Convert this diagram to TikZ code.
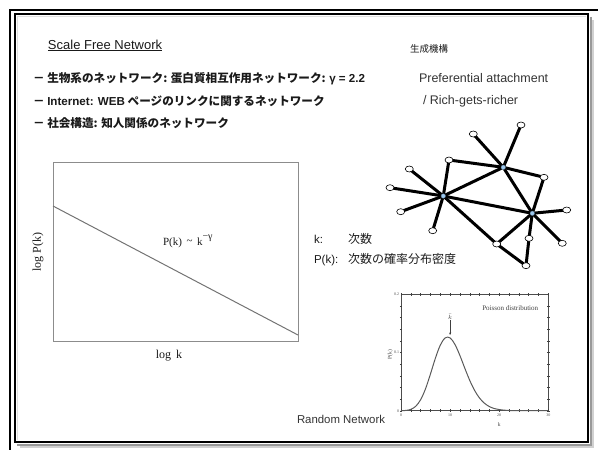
\documentclass[tikz,border=0pt]{standalone}
\usepackage{fontspec}
\setmainfont{Liberation Sans}
\newfontfamily\ja{Noto Sans CJK JP}
\newfontfamily\tms{Liberation Serif}
\usetikzlibrary{shapes.geometric,arrows.meta,backgrounds}
\definecolor{txt}{HTML}{1A1A1A}
\definecolor{hubblue}{HTML}{9CC8EE}
\tikzset{
  lbl/.style={inner sep=0pt, outer sep=0pt, text=txt},
  hub/.style={circle, fill=hubblue, draw=hubblue!60!black, line width=0.3pt, inner sep=0pt, minimum size=4.5pt},
  leaf/.style={ellipse, fill=white, draw=black, line width=0.6pt, inner sep=0pt, minimum width=8pt, minimum height=6pt},
  edge/.style={line width=3pt, black},
  plotframe/.style={draw=black!45, line width=1pt},
  tick/.style={line width=0.4pt, black!75},
  ticklbl/.style={lbl, font=\tms\fontsize{4}{4}\selectfont, text=black!70},
}
\begin{document}
\begin{tikzpicture}[x=1pt,y=-1pt]
\useasboundingbox (0,0) rectangle (598,450);
% frame
\draw[black!18, line width=2pt] (592.5,20) -- (592.5,446.5) -- (20,446.5);
\draw[black!40, line width=2pt] (590.5,17) -- (590.5,444.5) -- (17,444.5);
\draw[black!12, line width=0.8pt] (17.5,440) -- (17.5,16.5) -- (586,16.5);
\draw[black, line width=1.6pt] (10,450) -- (10,10) -- (598,10);
\draw[black, line width=1.6pt] (15,14) rectangle (588,442);

% headings
\node[lbl, anchor=base west, font=\fontsize{13}{13}\selectfont] (title) at (48,49) {\underline{Scale Free Network}};
\node[lbl, anchor=base west, font=\ja\fontsize{9.5}{9.5}\selectfont] (gen) at (410,52) {生成機構};
\node[lbl, anchor=base west, font=\fontsize{12.5}{12.5}\selectfont, text=black!80] (pref) at (419,82) {Preferential attachment};
\node[lbl, anchor=base west, font=\fontsize{12.5}{12.5}\selectfont, text=black!80] (rich) at (423,104) {/ Rich-gets-richer};

% bullets
\node[lbl, anchor=base west, font=\ja\bfseries\fontsize{11.6}{11.6}\selectfont] (b1) at (33,82) {－ 生物系のネットワーク: 蛋白質相互作用ネットワーク: {\rmfamily\bfseries γ = 2.2}};
\node[lbl, anchor=base west, font=\ja\bfseries\fontsize{11.6}{11.6}\selectfont] (b2) at (33,105) {－ {\rmfamily\bfseries Internet: WEB} ページのリンクに関するネットワーク};
\node[lbl, anchor=base west, font=\ja\bfseries\fontsize{11.6}{11.6}\selectfont] (b3) at (33,127) {－ 社会構造: 知人関係のネットワーク};

% power law plot
\draw[plotframe] (53,162) rectangle (298,341);
\coordinate (pl1) at (53,206);
\coordinate (pl2) at (298,335);
\draw[black!55, line width=1pt] (pl1) -- (pl2);
\node[lbl, anchor=base west, font=\tms\fontsize{11}{11}\selectfont] (law) at (163,245) {P(k) \,{\raisebox{1pt}{\char"7E}}\, k\raisebox{6pt}{\fontsize{10}{10}\selectfont −γ}};
\node[lbl, rotate=90, font=\tms\fontsize{12}{12}\selectfont] (ylab) at (38,252) {log P(k)};
\node[lbl, font=\tms\fontsize{12}{12}\selectfont] (xlab) at (169,356) {log\, k};

% definitions
\node[lbl, anchor=base west, font=\fontsize{11.5}{11.5}\selectfont] (d1) at (314,243) {k:};
\node[lbl, anchor=base west, font=\ja\fontsize{12}{12}\selectfont] (d1b) at (348,243) {次数};
\node[lbl, anchor=base west, font=\fontsize{11.5}{11.5}\selectfont] (d2) at (314,263) {P(k):};
\node[lbl, anchor=base west, font=\ja\fontsize{12}{12}\selectfont] (d2b) at (348,263) {次数の確率分布密度};

% network
\node[hub] (H1) at (443.3,196) {};
\node[hub] (H2) at (503.3,167.3) {};
\node[hub] (H3) at (532.3,213.3) {};
\node[leaf] (a) at (473.3,134) {};
\node[leaf] (b) at (521,125) {};
\node[leaf] (c) at (449,160) {};
\node[leaf] (d) at (409.3,169) {};
\node[leaf] (e) at (390,187.7) {};
\node[leaf] (f) at (400.7,211.7) {};
\node[leaf] (g) at (432.7,230.7) {};
\node[leaf] (h) at (544,177.3) {};
\node[leaf] (i) at (566.7,210) {};
\node[leaf] (j) at (562.3,243.3) {};
\node[leaf] (k) at (529,238.3) {};
\node[leaf] (l) at (496.7,244) {};
\node[leaf] (m) at (526,265.7) {};
\begin{pgfonlayer}{background}
\foreach \u/\v in {H1/d,H1/e,H1/f,H1/g,H1/c,H1/H2,H1/H3,H1/l,c/H2,H2/a,H2/b,H2/h,H2/H3,h/H3,H3/i,H3/j,H3/k,H3/l,k/m,l/m}
  \draw[edge] (\u.center) -- (\v.center);
\end{pgfonlayer}

% poisson plot
\begin{scope}[shift={(401,410.7)}, x=4.91pt, y=582pt]
\draw[black!70, line width=0.6pt] (0,0) rectangle (30,0.2);
\foreach \t in {0,2,...,30} {
  \draw[tick] ([yshift=-1.2pt]\t,0) -- ++(0pt,2.6pt);
  \draw[tick] ([yshift=1.2pt]\t,0.2) -- ++(0pt,-2.6pt);
}
\foreach \t in {0,0.02,...,0.2} {
  \draw[tick] ([xshift=-1.2pt]0,\t) -- ++(2.6pt,0pt);
  \draw[tick] ([xshift=1.2pt]30,\t) -- ++(-2.6pt,0pt);
}
\foreach \t in {0,10,20,30}
  \node[ticklbl, anchor=north] at ([yshift=-3pt]\t,0) {\t};
\node[ticklbl, anchor=east] at ([xshift=-2pt]0,0) {0};
\node[ticklbl, anchor=east] at ([xshift=-2pt]0,0.1) {0.1};
\node[ticklbl, anchor=east] at ([xshift=-2pt]0,0.2) {0.2};
\draw[black!65, line width=1pt] plot[smooth, tension=0.55] coordinates {
 (0,0) (1,0.00045) (2,0.00227) (3,0.00757) (4,0.0189) (5,0.0378) (6,0.0631)
 (7,0.0901) (8,0.1126) (9,0.1251) (10,0.1251) (11,0.1137) (12,0.0948)
 (13,0.0729) (14,0.0521) (15,0.0347) (16,0.0217) (17,0.0128) (18,0.0071)
 (19,0.0037) (20,0.0019) (21,0.0009) (22,0.0004) (24,0) (30,0)};
\node[lbl, font=\tms\fontsize{7}{7}\selectfont, text=black!75] (pd) at (22.25,0.176) {Poisson distribution};
\node[lbl, anchor=south, font=\tms\fontsize{6.5}{6.5}\selectfont, text=black!75] (kbar) at (10,0.157) {$\bar{k}$};
\coordinate (peak) at (10,0.130);
\draw[-{Stealth[length=2.5pt,width=2pt]}, black!75, line width=0.5pt] ([yshift=-1pt]kbar.south) -- (peak);
\node[lbl, font=\tms\fontsize{5.5}{5.5}\selectfont, text=black!75] (kx) at (20,-0.024) {k};
\node[lbl, rotate=90, font=\tms\fontsize{5.5}{5.5}\selectfont, text=black!75] (py) at (-2.2,0.096) {P(k)};
\end{scope}
\node[lbl, anchor=base west, font=\fontsize{11.4}{11.4}\selectfont, text=black!80] (rn) at (297,423) {Random Network};
\end{tikzpicture}
\end{document}
